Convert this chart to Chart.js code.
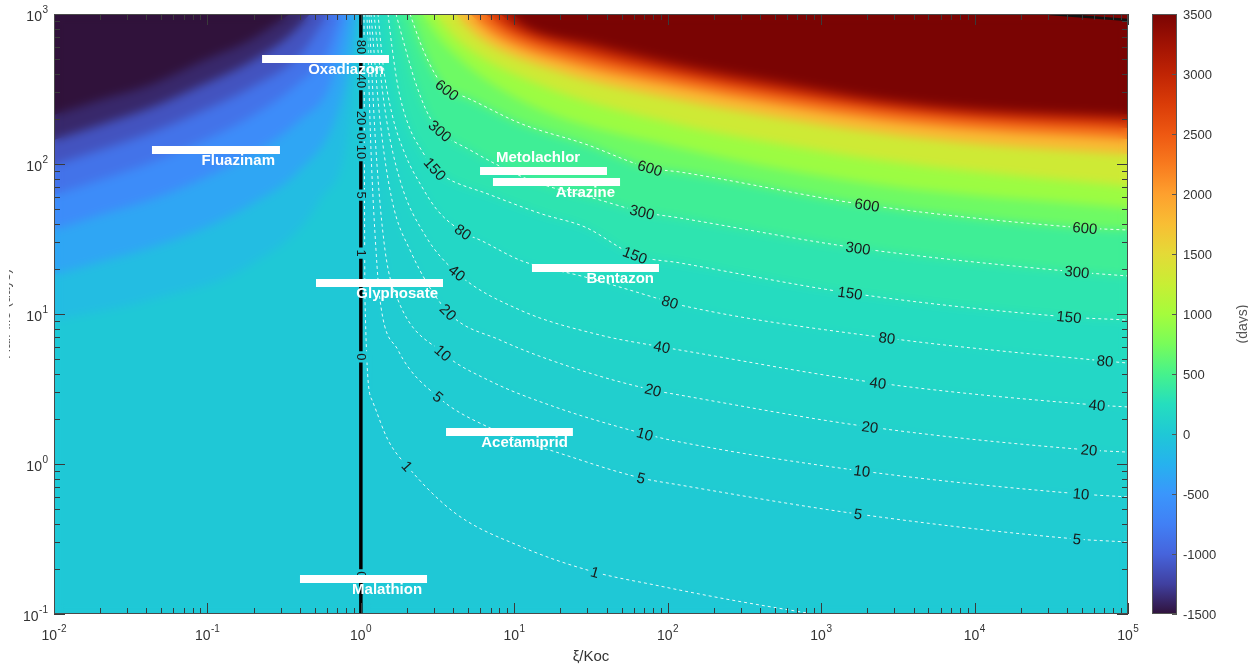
<!DOCTYPE html>
<html>
<head>
<meta charset="utf-8">
<script src="https://cdn.jsdelivr.net/npm/chart.js@4.4.1/dist/chart.umd.min.js"></script>
<style>
  html, body { margin: 0; padding: 0; background: #fff; }
</style>
</head>
<body>
<canvas id="chart" width="1248" height="669"></canvas>
<script>
const X_MIN = 0.01, X_MAX = 1e5, Y_MIN = 0.1, Y_MAX = 1000;
const CB_MIN = -1500, CB_MAX = 3500;

// axis ticks
const xDecades = [0.01, 0.1, 1, 10, 100, 1000, 10000, 100000];
const xExponents = ['-2', '-1', '0', '1', '2', '3', '4', '5'];
const yDecades = [0.1, 1, 10, 100, 1000];
const yExponents = ['-1', '0', '1', '2', '3'];
const colorTicks = [3500, 3000, 2500, 2000, 1500, 1000, 500, 0, -500, -1000, -1500];

// colormap (value -> rgb)
const cmapValues = [-1500, -1250, -1000, -750, -500, -250, 0, 250, 500, 750, 1000, 1250, 1500, 1750, 2000, 2250, 2500, 2750, 3000, 3250, 3500];
const cmapColors = [
  [48, 18, 59], [64, 64, 160], [70, 100, 220], [65, 128, 245], [58, 150, 252], [38, 178, 238],
  [31, 200, 214], [37, 222, 190], [70, 242, 140], [120, 252, 90], [165, 252, 60], [200, 238, 52],
  [228, 218, 55], [248, 190, 52], [254, 160, 46], [248, 122, 30], [238, 88, 18], [218, 60, 8],
  [192, 36, 4], [160, 18, 3], [122, 4, 3],
];

// dashed contours [x, y]
const line1 = [[1.048, 1000], [1.064, 12.4], [1.182, 2.67], [1.503, 1.445], [2.0, 0.97], [4.11, 0.471], [11.2, 0.28], [33.6, 0.19], [82.6, 0.156], [219, 0.128], [809, 0.1015]];
const line5 = [[1.096, 1000], [1.164, 124], [1.255, 26.7], [1.333, 12.4], [1.746, 5.75], [3.183, 2.80], [6.74, 1.765], [23.77, 1.11], [67.0, 0.807], [120.2, 0.724], [1738, 0.464], [4.65e4, 0.316], [1e5, 0.302]];
const line10 = [[1.13, 1000], [1.255, 124], [1.437, 26.7], [1.746, 12.4], [3.431, 5.50], [6.74, 3.63], [18.42, 2.40], [71.1, 1.585], [120.2, 1.402], [1845, 0.898], [4.94e4, 0.631], [1e5, 0.603]];
const line20 = [[1.164, 1000], [1.333, 196.6], [1.596, 57.5], [2.09, 26.7], [3.70, 10.31], [8.07, 6.71], [26.8, 4.23], [80.2, 3.11], [120.2, 2.88], [2080, 1.765], [5.57e4, 1.24], [1e5, 1.20]];
const line40 = [[1.218, 1000], [1.437, 229], [1.799, 78.2], [2.618, 33.6], [4.233, 18.77], [10.9, 10.63], [36.2, 7.24], [91.8, 6.03], [120.2, 5.75], [2347, 3.47], [6.28e4, 2.47], [1e5, 2.40]];
const line80 = [[1.293, 1000], [1.394, 464], [1.596, 215.4], [1.94, 116.6], [2.503, 70.3], [3.183, 48.6], [4.632, 35.2], [6.16, 30.7], [11.2, 22.6], [28.9, 17.65], [103.5, 12.0], [120.2, 11.48], [2686, 6.92], [7.08e4, 4.86], [1e5, 4.71]];
const line150 = [[1.503, 1000], [1.596, 602.6], [1.746, 326], [2.029, 184.8], [2.503, 122.1], [3.042, 92.6], [3.53, 81.9], [6.74, 63.1], [15.16, 46.4], [28.9, 38.0], [61.2, 24.7], [120.2, 21.9], [1542, 13.8], [4.125e4, 9.55], [1e5, 9.12]];
const line300 = [[1.694, 1000], [1.94, 602.6], [2.253, 357.6], [2.739, 215.4], [3.28, 166], [5.143, 124], [12.66, 78.2], [36.2, 57.5], [68.0, 47.9], [120.2, 43.65], [1738, 27.5], [4.65e4, 19.05], [1e5, 17.92]];
const line600 = [[2.09, 1000], [2.503, 602.6], [3.042, 398], [3.643, 311.5], [4.77, 279.8], [11.2, 184.8], [28.9, 136], [76.6, 94.0], [120.2, 88.4], [1990, 53.3], [5.24e4, 37.45], [1e5, 36.3]];

const contourLevels = [1, 5, 10, 20, 40, 80, 150, 300, 600];
const contourLines = [line1, line5, line10, line20, line40, line80, line150, line300, line600];
const contourLabelX = [
  [2.0, 33.6],
  [3.183, 67.0, 1738, 4.65e4],
  [3.431, 71.1, 1845, 4.94e4],
  [3.70, 80.2, 2080, 5.57e4],
  [4.233, 91.8, 2347, 6.28e4],
  [4.632, 103.5, 2686, 7.08e4],
  [3.042, 61.2, 1542, 4.125e4],
  [3.28, 68.0, 1738, 4.65e4],
  [3.643, 76.6, 1990, 5.24e4],
];
// colour value of the field just above each contour
const contourBandValues = [20, 45, 80, 120, 170, 230, 320, 450, 700];

// colour boundaries of the upper right field
const edge800 = [[2.503, 1000], [3.53, 621], [10.9, 267], [120.2, 127.8], [2419, 72.4], [1e5, 50.9]];
const edge1000 = [[3.042, 1000], [4.43, 651], [14.71, 336], [120.2, 182], [539, 136], [2419, 106.3], [1.085e4, 88.4], [1e5, 71.3]];
const edge1500 = [[4.108, 1000], [5.98, 692], [19.86, 410], [120.2, 267], [539, 203], [2419, 161], [1.085e4, 136], [1e5, 116.6]];
const edge2000 = [[5.143, 1000], [7.49, 724], [23.07, 471], [120.2, 326], [539, 247], [2419, 196.6], [1.085e4, 168.5], [1e5, 146.8]];
const edge2500 = [[6.45, 1000], [9.38, 759], [26.8, 533], [120.2, 380], [539, 288], [2419, 229], [1.085e4, 196.6], [1e5, 174]];
const edge3000 = [[8.07, 1000], [10.9, 807], [31.2, 593], [120.2, 430], [539, 326], [2419, 255], [1.085e4, 219], [1e5, 199.5]];
const edge3500 = [[9.81, 1000], [12.66, 819], [34.6, 641], [120.2, 479], [539, 363], [2419, 279.8], [1.085e4, 240], [1e5, 215]];
const upperEdges = [edge800, edge1000, edge1500, edge2000, edge2500, edge3000, edge3500];
const upperBandValues = [950, 1300, 1800, 2300, 2800, 3250, 3500];

// colour boundaries of the upper left field
const edgeN100 = [[0.01, 9.12], [0.0422, 12.4], [0.19, 21.2], [0.5415, 57.5], [0.85, 196.6], [0.958, 1000]];
const edgeN250 = [[0.01, 18.2], [0.02, 22.2], [0.0422, 27.5], [0.0894, 36.3], [0.19, 53.3], [0.401, 91.2], [0.678, 196.6], [0.85, 493.6], [0.93, 1000]];
const edgeN500 = [[0.01, 36.3], [0.02, 45.7], [0.0422, 57.5], [0.0894, 78.2], [0.19, 114.8], [0.401, 196.6], [0.629, 336], [0.8245, 1000]];
const edgeN750 = [[0.01, 62.1], [0.02, 78.2], [0.0422, 101.6], [0.0894, 140.2], [0.19, 205.8], [0.401, 352], [0.584, 533], [0.731, 1000]];
const edgeN1000 = [[0.01, 98.5], [0.02, 124], [0.0422, 161], [0.0894, 222], [0.19, 321], [0.401, 533], [0.611, 1000]];
const edgeN1250 = [[0.01, 144.5], [0.02, 182], [0.0422, 236], [0.0894, 331], [0.19, 479], [0.345, 724], [0.466, 1000]];
const edgeN1500 = [[0.01, 212], [0.02, 267], [0.0422, 336], [0.0894, 479], [0.19, 671], [0.345, 1000]];
const lowerEdges = [edgeN100, edgeN250, edgeN500, edgeN750, edgeN1000, edgeN1250, edgeN1500];
const lowerBandValues = [-130, -360, -610, -870, -1120, -1380, -1500];

// the zero contour at x = 1 and its labels
const zeroLine = [[1, 0.1], [1, 1000]];
const zeroLabelText = ['80', '40', '20', '0', '10', '5', '1', '0', '0'];
const zeroLabelY = [602.6, 357.6, 202.6, 153.7, 120.2, 62.1, 25.5, 5.17, 0.182];
const cornerLine = [[3.1e4, 1000], [1e5, 912]];

// pesticides
const pesticideNames = ['Oxadiazon', 'Fluazinam', 'Metolachlor', 'Atrazine', 'Glyphosate', 'Bentazon', 'Acetamiprid', 'Malathion'];
const pesticideXLow = [0.227, 0.0435, 5.98, 7.26, 0.51, 13.04, 3.59, 0.401];
const pesticideXHigh = [1.525, 0.297, 40.2, 48.9, 3.43, 87.7, 24.1, 2.70];
const pesticideY = [501, 124, 89.8, 75.9, 16.1, 20.3, 1.634, 0.171];

const FONT = '"Liberation Sans", Arial, sans-serif';

function cmapRgb(v) {
  const n = cmapValues.length;
  if (v <= cmapValues[0]) return cmapColors[0];
  if (v >= cmapValues[n - 1]) return cmapColors[n - 1];
  let i = 0;
  while (v > cmapValues[i + 1]) i++;
  const t = (v - cmapValues[i]) / (cmapValues[i + 1] - cmapValues[i]);
  return cmapColors[i].map((c, k) => Math.round(c + t * (cmapColors[i + 1][k] - c)));
}
const cmap = (v) => `rgb(${cmapRgb(v).join(',')})`;
const toPts = (arr) => arr.map(([x, y]) => ({ x, y }));

function bandSet(pts, value) {
  return {
    data: toPts(pts),
    fill: 'end',
    backgroundColor: cmap(value),
    borderColor: 'transparent',
    borderWidth: 0,
    pointRadius: 0,
    cubicInterpolationMode: 'monotone',
  };
}

const datasets = [];
lowerEdges.forEach((pts, i) => datasets.push(bandSet(pts, lowerBandValues[i])));
contourLines.forEach((pts, i) => {
  const last = pts[pts.length - 1];
  const ext = last[0] < X_MAX ? pts.concat([[X_MAX, Y_MIN]]) : pts;
  datasets.push(bandSet(ext, contourBandValues[i]));
});
upperEdges.forEach((pts, i) => datasets.push(bandSet(pts, upperBandValues[i])));
datasets[datasets.length - 1].blurAfter = true;
contourLines.forEach((pts) => datasets.push({
  data: toPts(pts),
  borderColor: 'rgba(255,255,255,0.9)',
  borderWidth: 1,
  borderDash: [3, 3],
  pointRadius: 0,
  fill: false,
  cubicInterpolationMode: 'monotone',
  clipLabels: true,
}));
datasets.push({
  data: toPts(zeroLine), borderColor: '#000', borderWidth: 3.5, pointRadius: 0, fill: false,
  clipLabels: true, drawLabelsAfter: true,
});
datasets.push({ data: toPts(cornerLine), borderColor: '#111', borderWidth: 2.5, pointRadius: 0, fill: false });
pesticideNames.forEach((name, i) => datasets.push({
  label: name,
  data: [{ x: pesticideXLow[i], y: pesticideY[i] }, { x: pesticideXHigh[i], y: pesticideY[i] }],
  borderColor: '#fff',
  borderWidth: 8,
  borderCapStyle: 'butt',
  pointRadius: 0,
  fill: false,
}));
datasets.forEach((d, i) => { d.order = datasets.length - i; });

function interpY(pts, lx) {
  const lg = Math.log10;
  for (let i = 0; i < pts.length - 1; i++) {
    const [x0, y0] = pts[i];
    const [x1, y1] = pts[i + 1];
    if (lx >= x0 && lx <= x1) {
      const t = (lg(lx) - lg(x0)) / (lg(x1) - lg(x0));
      return Math.pow(10, lg(y0) + t * (lg(y1) - lg(y0)));
    }
  }
  return pts[pts.length - 1][1];
}

function buildLabels(chart) {
  const { ctx, scales: { x, y } } = chart;
  const boxes = [];
  ctx.save();
  const cFont = `15px ${FONT}`;
  ctx.font = cFont;
  contourLines.forEach((pts, ci) => {
    const text = String(contourLevels[ci]);
    const w = ctx.measureText(text).width + 5;
    contourLabelX[ci].forEach((lx) => {
      const ly = interpY(pts, lx);
      let j = 0;
      pts.forEach((p, k) => {
        if (Math.abs(Math.log10(p[0] / lx)) < Math.abs(Math.log10(pts[j][0] / lx))) j = k;
      });
      const p0 = pts[Math.max(j - 1, 0)];
      const p1 = pts[Math.min(j + 1, pts.length - 1)];
      const angle = Math.atan2(y.getPixelForValue(p1[1]) - y.getPixelForValue(p0[1]),
        x.getPixelForValue(p1[0]) - x.getPixelForValue(p0[0]));
      boxes.push({ text, font: cFont, cx: x.getPixelForValue(lx), cy: y.getPixelForValue(ly), w, h: 13, angle });
    });
  });
  const zFont = `13px ${FONT}`;
  ctx.font = zFont;
  zeroLabelText.forEach((text, i) => {
    const w = ctx.measureText(text).width + 4;
    boxes.push({ text, font: zFont, cx: x.getPixelForValue(1) + 1, cy: y.getPixelForValue(zeroLabelY[i]), w, h: 12, angle: Math.PI / 2 });
  });
  ctx.restore();
  return boxes;
}

function addBox(ctx, b) {
  const c = Math.cos(b.angle), s = Math.sin(b.angle);
  const corners = [[-b.w / 2, -b.h / 2], [b.w / 2, -b.h / 2], [b.w / 2, b.h / 2], [-b.w / 2, b.h / 2]];
  corners.forEach(([dx, dy], k) => {
    const px = b.cx + dx * c - dy * s;
    const py = b.cy + dx * s + dy * c;
    if (k === 0) ctx.moveTo(px, py); else ctx.lineTo(px, py);
  });
  ctx.closePath();
}

function drawPow(ctx, exp, x, yMid, align) {
  const baseFont = `14px ${FONT}`, expFont = `10px ${FONT}`;
  ctx.font = baseFont;
  const wb = ctx.measureText('10').width;
  ctx.font = expFont;
  const we = ctx.measureText(exp).width;
  const total = wb + we + 0.5;
  const left = align === 'center' ? x - total / 2 : x - total;
  ctx.textAlign = 'left';
  ctx.textBaseline = 'middle';
  ctx.font = baseFont;
  ctx.fillText('10', left, yMid);
  ctx.font = expFont;
  ctx.fillText(exp, left + wb + 0.5, yMid - 7);
}

// soften the filled bands, each side of the x = 1 line on its own
function softenField(chart) {
  const { ctx, chartArea: a, scales: { x } } = chart;
  const split = Math.round(x.getPixelForValue(1));
  [[a.left, split], [split, a.right]].forEach(([l, r]) => {
    const w = r - l, h = a.bottom - a.top;
    const off = document.createElement('canvas');
    off.width = w; off.height = h;
    off.getContext('2d').drawImage(chart.canvas, l, a.top, w, h, 0, 0, w, h);
    ctx.save();
    ctx.beginPath();
    ctx.rect(l, a.top, w, h);
    ctx.clip();
    ctx.filter = 'blur(5px)';
    ctx.drawImage(off, l, a.top);
    ctx.restore();
  });
}

const overlayPlugin = {
  id: 'overlay',
  beforeDatasetsDraw(chart) {
    const { ctx, chartArea: a } = chart;
    ctx.save();
    ctx.fillStyle = cmap(0);
    ctx.fillRect(a.left, a.top, a.right - a.left, a.bottom - a.top);
    ctx.restore();
    chart.$labelBoxes = buildLabels(chart);
  },
  beforeDatasetDraw(chart, args) {
    const ds = chart.data.datasets[args.index];
    if (!ds.clipLabels) return;
    const ctx = chart.ctx;
    ctx.save();
    ctx.beginPath();
    ctx.rect(0, 0, chart.width, chart.height);
    chart.$labelBoxes.forEach((b) => addBox(ctx, b));
    ctx.clip('evenodd');
  },
  afterDatasetDraw(chart, args) {
    const ds = chart.data.datasets[args.index];
    const ctx = chart.ctx;
    if (ds.clipLabels) ctx.restore();
    if (ds.blurAfter) softenField(chart);
    if (ds.drawLabelsAfter) {
      ctx.save();
      ctx.fillStyle = '#1a1a1a';
      ctx.textAlign = 'center';
      ctx.textBaseline = 'middle';
      chart.$labelBoxes.forEach((b) => {
        ctx.save();
        ctx.font = b.font;
        ctx.translate(b.cx, b.cy);
        ctx.rotate(b.angle);
        ctx.fillText(b.text, 0, 1);
        ctx.restore();
      });
      ctx.restore();
    }
  },
  afterDatasetsDraw(chart) {
    const { ctx, scales: { x, y } } = chart;
    ctx.save();
    ctx.font = `bold 15px ${FONT}`;
    ctx.fillStyle = '#fff';
    ctx.textBaseline = 'middle';
    pesticideNames.forEach((name, i) => {
      const py = y.getPixelForValue(pesticideY[i]);
      if (name === 'Metolachlor') {
        ctx.textAlign = 'left';
        ctx.fillText(name, x.getPixelForValue(pesticideXLow[i]) + 16, py - 13);
      } else {
        ctx.textAlign = 'right';
        ctx.fillText(name, x.getPixelForValue(pesticideXHigh[i]) - 5, py + 11);
      }
    });
    ctx.restore();
  },
  afterDraw(chart) {
    const { ctx, chartArea: a, scales: { x, y } } = chart;
    ctx.save();
    // ticks inside the box
    ctx.strokeStyle = '#3a3a3a';
    ctx.lineWidth = 1;
    ctx.beginPath();
    const vTick = (px, len) => {
      const p = Math.round(px) + 0.5;
      ctx.moveTo(p, a.bottom); ctx.lineTo(p, a.bottom - len);
      ctx.moveTo(p, a.top); ctx.lineTo(p, a.top + len);
    };
    const hTick = (py, len) => {
      const p = Math.round(py) + 0.5;
      ctx.moveTo(a.left, p); ctx.lineTo(a.left + len, p);
      ctx.moveTo(a.right, p); ctx.lineTo(a.right - len, p);
    };
    xDecades.forEach((d, i) => {
      vTick(x.getPixelForValue(d), 11);
      if (i < xDecades.length - 1) for (let m = 2; m <= 9; m++) vTick(x.getPixelForValue(d * m), 6);
    });
    yDecades.forEach((d, i) => {
      hTick(y.getPixelForValue(d), 11);
      if (i < yDecades.length - 1) for (let m = 2; m <= 9; m++) hTick(y.getPixelForValue(d * m), 6);
    });
    ctx.stroke();
    ctx.strokeStyle = '#4a4a4a';
    ctx.strokeRect(a.left + 0.5, a.top + 0.5, a.right - a.left - 1, a.bottom - a.top - 1);

    // tick labels
    ctx.fillStyle = '#333';
    xDecades.forEach((d, i) => drawPow(ctx, xExponents[i], x.getPixelForValue(d), a.bottom + 22, 'center'));
    yDecades.forEach((d, i) => drawPow(ctx, yExponents[i], 48, y.getPixelForValue(d) + 3, 'right'));

    // x title
    ctx.font = `15px ${FONT}`;
    ctx.textAlign = 'center';
    ctx.textBaseline = 'middle';
    ctx.fillText('ξ/Koc', (a.left + a.right) / 2, 657);

    // y title, cut at the left border of the picture
    ctx.save();
    ctx.beginPath();
    ctx.rect(9, a.top, 10, a.bottom - a.top);
    ctx.clip();
    ctx.translate(10, (a.top + a.bottom) / 2);
    ctx.rotate(-Math.PI / 2);
    ctx.font = `14px ${FONT}`;
    ctx.textBaseline = 'alphabetic';
    ctx.fillStyle = '#555';
    ctx.fillText('Half-life (days)', 0, 0);
    ctx.restore();

    // colorbar
    const cbL = 1152, cbR = 1177;
    const cy = (v) => a.bottom - (v - CB_MIN) / (CB_MAX - CB_MIN) * (a.bottom - a.top);
    const g = ctx.createLinearGradient(0, a.bottom, 0, a.top);
    cmapValues.forEach((v) => g.addColorStop((v - CB_MIN) / (CB_MAX - CB_MIN), cmap(v)));
    ctx.fillStyle = g;
    ctx.fillRect(cbL, a.top, cbR - cbL, a.bottom - a.top);
    ctx.strokeStyle = '#555';
    ctx.strokeRect(cbL + 0.5, a.top + 0.5, cbR - cbL - 1, a.bottom - a.top - 1);
    ctx.beginPath();
    colorTicks.forEach((v) => {
      const p = Math.round(cy(v)) + 0.5;
      ctx.moveTo(cbR, p); ctx.lineTo(cbR - 5, p);
    });
    ctx.stroke();
    ctx.fillStyle = '#333';
    ctx.font = `13px ${FONT}`;
    ctx.textAlign = 'left';
    ctx.textBaseline = 'middle';
    colorTicks.forEach((v) => ctx.fillText(String(v), cbR + 6, cy(v) + 1));

    // colorbar title, cut at the right border
    ctx.translate(1247, 324);
    ctx.rotate(-Math.PI / 2);
    ctx.font = `14px ${FONT}`;
    ctx.textAlign = 'center';
    ctx.textBaseline = 'alphabetic';
    ctx.fillStyle = '#555';
    ctx.fillText('(days)', 0, 0);
    ctx.restore();
  },
};

new Chart(document.getElementById('chart'), {
  type: 'line',
  data: { datasets },
  options: {
    responsive: false,
    animation: false,
    devicePixelRatio: 1,
    layout: { padding: { left: 54, right: 120, top: 14, bottom: 55 } },
    plugins: { legend: { display: false }, tooltip: { enabled: false } },
    elements: { line: { tension: 0 } },
    scales: {
      x: { type: 'logarithmic', min: X_MIN, max: X_MAX, display: false },
      y: { type: 'logarithmic', min: Y_MIN, max: Y_MAX, display: false },
    },
  },
  plugins: [overlayPlugin],
});
</script>
</body>
</html>
